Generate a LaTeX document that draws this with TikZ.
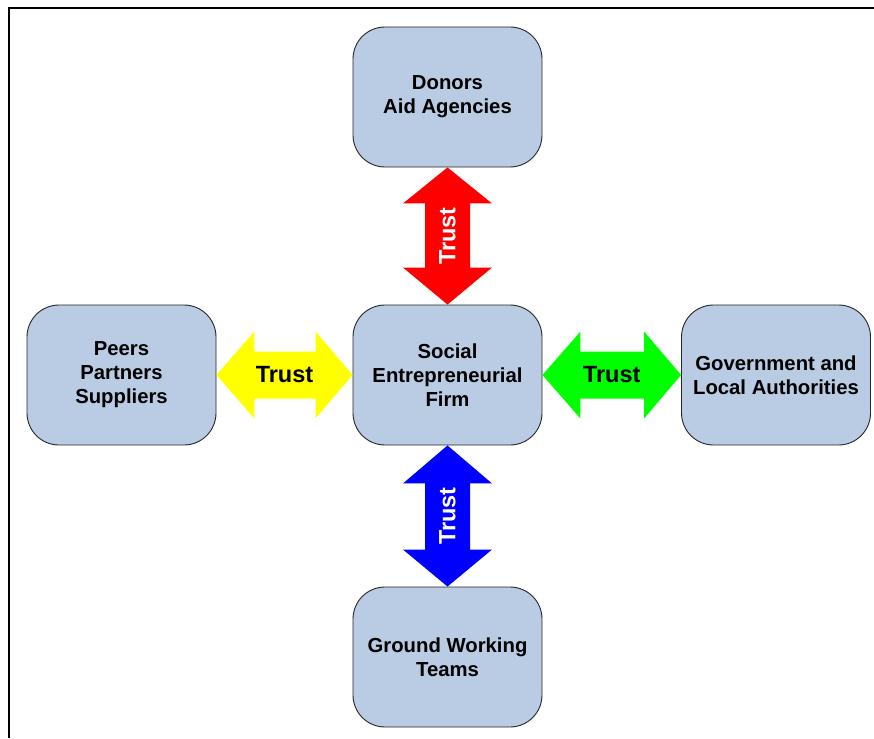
\documentclass[tikz,border=0pt]{standalone}
\usepackage{fontspec}
\setmainfont{Liberation Sans}
\usetikzlibrary{calc}
\definecolor{boxfill}{HTML}{B9CCE4}
\definecolor{trustred}{HTML}{FF0000}
\definecolor{trustyellow}{HTML}{FFFF00}
\definecolor{trustgreen}{HTML}{00FF00}
\definecolor{trustblue}{HTML}{0000FF}
\begin{document}
\begin{tikzpicture}[x=1pt,y=-1pt,
  party/.style={draw=black!85, line width=0.9pt, fill=boxfill,
    rounded corners=32pt, minimum width=189pt, minimum height=140pt,
    inner sep=0pt, align=center,
    font=\fontsize{20.3}{24}\selectfont\bfseries},
  trustlabel/.style={inner sep=0pt, font=\fontsize{23.5}{26}\selectfont\bfseries}]
\useasboundingbox (0,0) rectangle (874,738);
% frame
\draw[line width=2.2pt] (9,738) -- (9,8) -- (874,8);

% parties
\node[party] (don)  at (447.5,97)  {Donors\\Aid Agencies};
\node[party] (firm) at (447.5,375) {Social\\Entrepreneurial\\Firm};
\node[party] (peer) at (121.5,375) {Peers\\Partners\\Suppliers};
\node[party] (gov)  at (776,375)   {Government and\\Local Authorities};
\node[party] (grd)  at (447.5,657) {Ground Working\\Teams};

% vertical double arrows: tips on the facing box edges
\fill[trustred]
  (don.south) -- ($(don.south)+(44.5,36)$) -- ($(don.south)+(22.5,36)$)
  -- ($(firm.north)+(22.5,-37)$) -- ($(firm.north)+(44.5,-37)$) -- (firm.north)
  -- ($(firm.north)+(-44.5,-37)$) -- ($(firm.north)+(-22.5,-37)$)
  -- ($(don.south)+(-22.5,36)$) -- ($(don.south)+(-44.5,36)$) -- cycle;
\node[trustlabel, text=white, rotate=90] (t1) at ($(don.south)!0.5!(firm.north)$) {Trust};

\fill[trustblue]
  (firm.south) -- ($(firm.south)+(44.5,38)$) -- ($(firm.south)+(22.5,38)$)
  -- ($(grd.north)+(22.5,-37)$) -- ($(grd.north)+(44.5,-37)$) -- (grd.north)
  -- ($(grd.north)+(-44.5,-37)$) -- ($(grd.north)+(-22.5,-37)$)
  -- ($(firm.south)+(-22.5,38)$) -- ($(firm.south)+(-44.5,38)$) -- cycle;
\node[trustlabel, text=white, rotate=90] (t4) at ($(firm.south)!0.5!(grd.north)$) {Trust};

% horizontal double arrows
\fill[trustyellow]
  (peer.east) -- ($(peer.east)+(38,-43.5)$) -- ($(peer.east)+(38,-23.5)$)
  -- ($(firm.west)+(-37,-23.5)$) -- ($(firm.west)+(-37,-43.5)$) -- (firm.west)
  -- ($(firm.west)+(-37,43.5)$) -- ($(firm.west)+(-37,23.5)$)
  -- ($(peer.east)+(38,23.5)$) -- ($(peer.east)+(38,43.5)$) -- cycle;
\node[trustlabel, text=black] (t2) at ($(peer.east)!0.5!(firm.west)$) {Trust};

\fill[trustgreen]
  (firm.east) -- ($(firm.east)+(38,-43.5)$) -- ($(firm.east)+(38,-23.5)$)
  -- ($(gov.west)+(-37,-23.5)$) -- ($(gov.west)+(-37,-43.5)$) -- (gov.west)
  -- ($(gov.west)+(-37,43.5)$) -- ($(gov.west)+(-37,23.5)$)
  -- ($(firm.east)+(38,23.5)$) -- ($(firm.east)+(38,43.5)$) -- cycle;
\node[trustlabel, text=black] (t3) at ($(firm.east)!0.5!(gov.west)$) {Trust};
\end{tikzpicture}
\end{document}
